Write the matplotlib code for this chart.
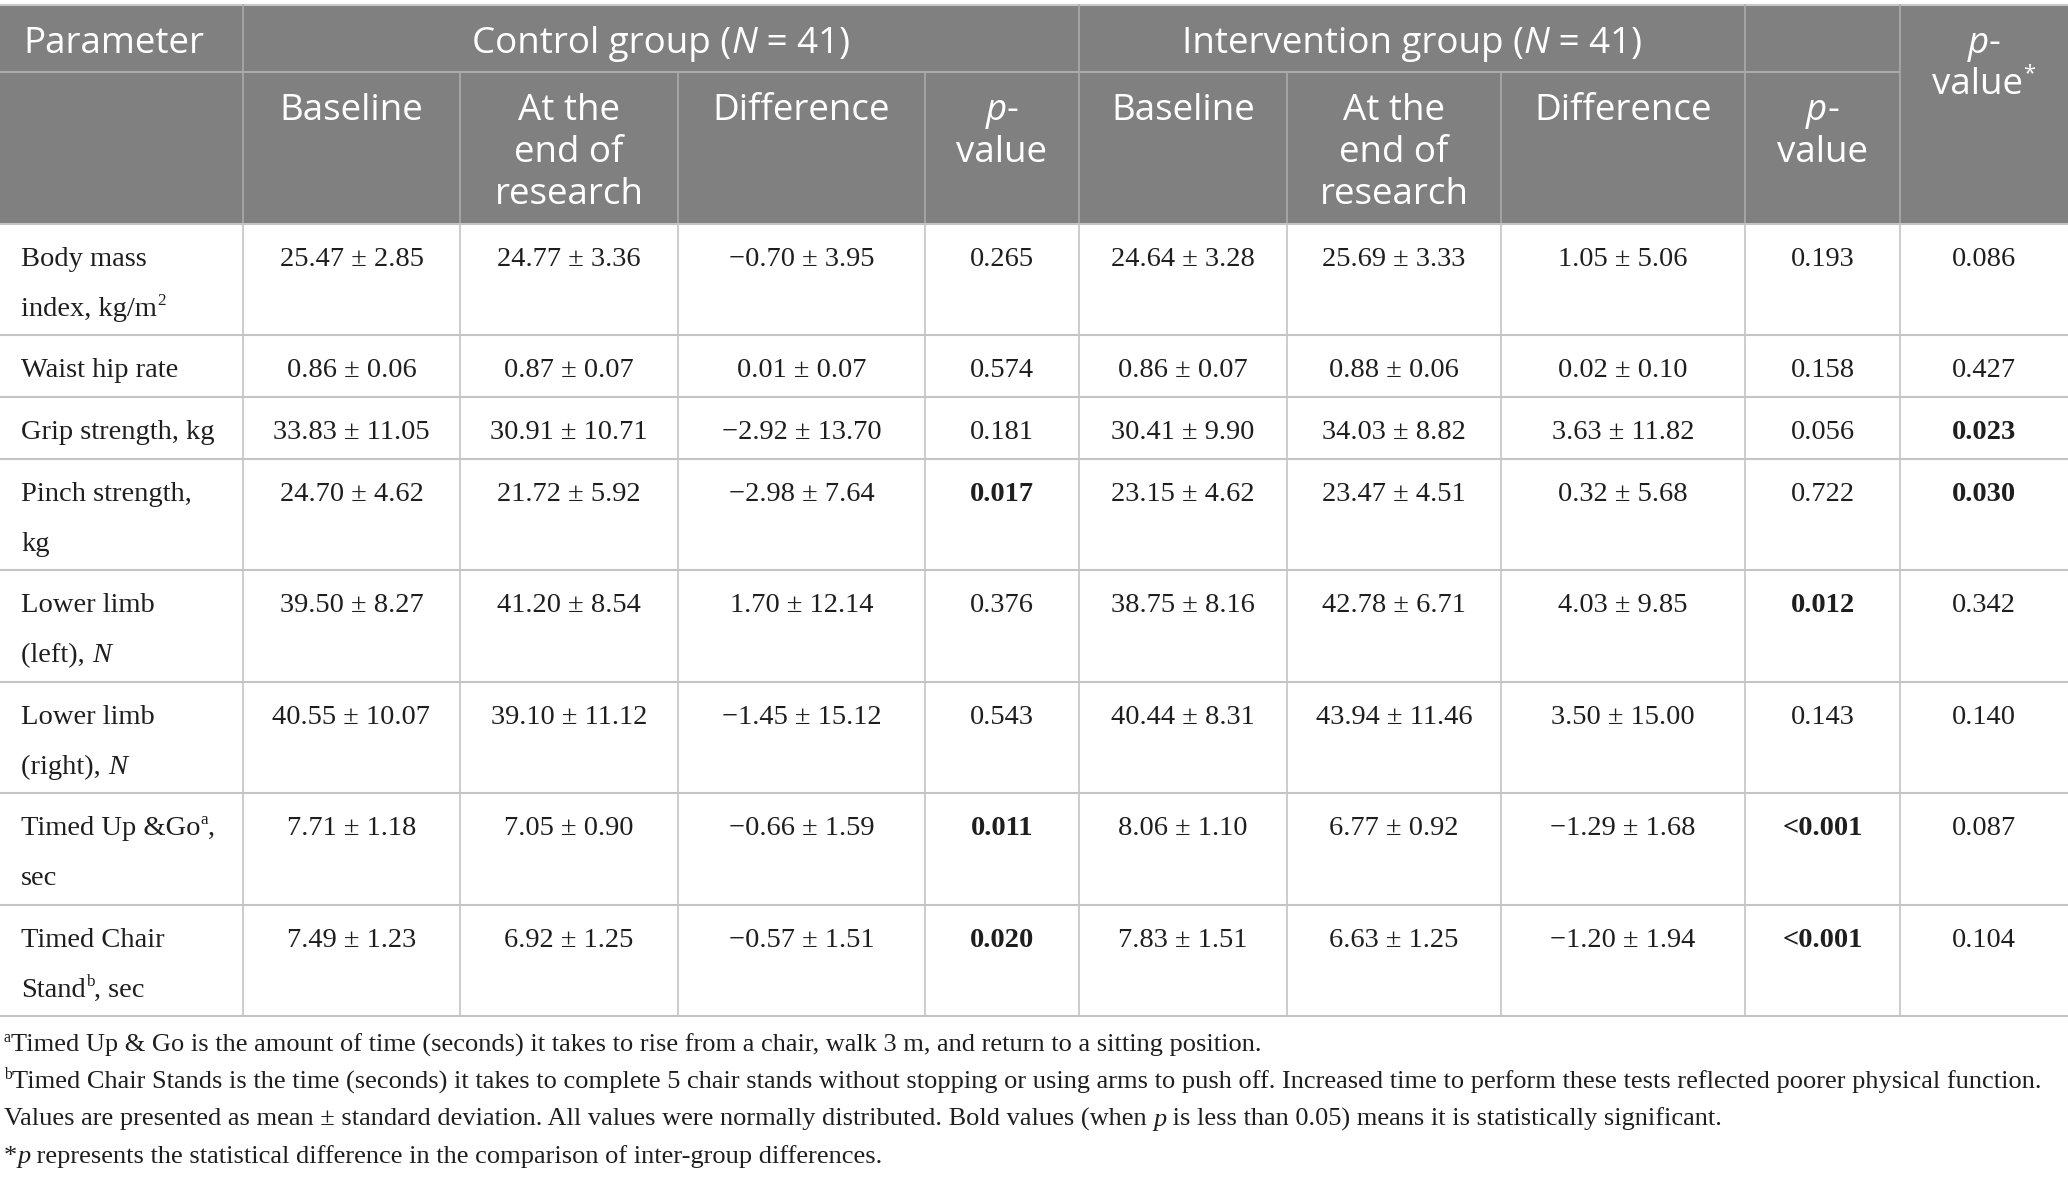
import re
import matplotlib.pyplot as plt

SERIF = ["Liberation Serif", "DejaVu Serif"]
SANS = ["Open Sans", "DejaVu Sans"]

# table content
params = [
    "Body mass\nindex, kg/m<sup>2</sup>",
    "Waist hip rate",
    "Grip strength, kg",
    "Pinch strength,\nkg",
    "Lower limb\n(left), <i>N</i>",
    "Lower limb\n(right), <i>N</i>",
    "Timed Up &Go<sup>a</sup>,\nsec",
    "Timed Chair\nStand<sup>b</sup>, sec",
]
ctrl_baseline = ["25.47 ± 2.85", "0.86 ± 0.06", "33.83 ± 11.05", "24.70 ± 4.62",
                 "39.50 ± 8.27", "40.55 ± 10.07", "7.71 ± 1.18", "7.49 ± 1.23"]
ctrl_end = ["24.77 ± 3.36", "0.87 ± 0.07", "30.91 ± 10.71", "21.72 ± 5.92",
            "41.20 ± 8.54", "39.10 ± 11.12", "7.05 ± 0.90", "6.92 ± 1.25"]
ctrl_diff = ["−0.70 ± 3.95", "0.01 ± 0.07", "−2.92 ± 13.70", "−2.98 ± 7.64",
             "1.70 ± 12.14", "−1.45 ± 15.12", "−0.66 ± 1.59", "−0.57 ± 1.51"]
ctrl_p = ["0.265", "0.574", "0.181", "0.017", "0.376", "0.543", "0.011", "0.020"]
int_baseline = ["24.64 ± 3.28", "0.86 ± 0.07", "30.41 ± 9.90", "23.15 ± 4.62",
                "38.75 ± 8.16", "40.44 ± 8.31", "8.06 ± 1.10", "7.83 ± 1.51"]
int_end = ["25.69 ± 3.33", "0.88 ± 0.06", "34.03 ± 8.82", "23.47 ± 4.51",
           "42.78 ± 6.71", "43.94 ± 11.46", "6.77 ± 0.92", "6.63 ± 1.25"]
int_diff = ["1.05 ± 5.06", "0.02 ± 0.10", "3.63 ± 11.82", "0.32 ± 5.68",
            "4.03 ± 9.85", "3.50 ± 15.00", "−1.29 ± 1.68", "−1.20 ± 1.94"]
int_p = ["0.193", "0.158", "0.056", "0.722", "0.012", "0.143", "<0.001", "<0.001"]
between_p = ["0.086", "0.427", "0.023", "0.030", "0.342", "0.140", "0.087", "0.104"]

group_headers = ["Control group (<i>N</i> = 41)", "Intervention group (<i>N</i> = 41)"]
sub_headers = ["Baseline", "At the\nend of\nresearch", "Difference", "<i>p</i>-\nvalue"]

footnotes = [
    "<sup>a</sup>Timed Up & Go is the amount of time (seconds) it takes to rise from a chair, "
    "walk 3 m, and return to a sitting position.",
    "<sup>b</sup>Timed Chair Stands is the time (seconds) it takes to complete 5 chair stands "
    "without stopping or using arms to push off. Increased time to perform these tests "
    "reflected poorer physical function.",
    "Values are presented as mean ± standard deviation. All values were normally distributed. "
    "Bold values (when <i>p</i> is less than 0.05) means it is statistically significant.",
    "*<i>p</i> represents the statistical difference in the comparison of inter-group differences.",
]

# layout in pixels
W, H = 2068, 1183
col_edges = [0, 243, 460, 678, 925, 1079, 1287, 1501, 1745, 1900, 2068]
head_top, head_mid, head_bot = 5, 72, 224
row_edges = [224, 335, 397, 459, 570, 682, 793, 905, 1016]

HEAD_BG = "#808080"
HEAD_LINE = "#ababab"
GRID = "#c4c4c4"
INK = "#1e1e1e"

fig = plt.figure(figsize=(W / 100, H / 100), dpi=100)
ax = fig.add_axes([0, 0, 1, 1])
ax.set_xlim(0, W)
ax.set_ylim(H, 0)
ax.axis("off")
renderer = fig.canvas.get_renderer()


def parse(markup):
    segs = []
    for part in re.split(r"(<[a-z]+>.*?</[a-z]+>)", markup):
        if not part:
            continue
        m = re.match(r"<([a-z]+)>(.*?)</\1>", part)
        if m:
            segs.append((m.group(2), m.group(1)))
        else:
            segs.append((part, ""))
    return segs


def seg_width(s, props):
    t1 = ax.text(0, 0, "|" + s + "|", **props)
    t2 = ax.text(0, 0, "||", **props)
    w = t1.get_window_extent(renderer).width - t2.get_window_extent(renderer).width
    t1.remove()
    t2.remove()
    return w


def draw_line(x, y, markup, size, family, color, ha="left", weight="normal"):
    pieces = []
    for s, tag in parse(markup):
        props = dict(fontsize=size, family=family, color=color,
                     fontweight=weight, fontstyle="normal")
        dy = 0
        if tag == "i":
            props["fontstyle"] = "italic"
        elif tag == "b":
            props["fontweight"] = "bold"
        elif tag == "sup":
            props["fontsize"] = size * 0.6
            dy = -size * 0.55
        pieces.append((s, props, dy, seg_width(s, props)))
    total = sum(p[3] for p in pieces)
    x0 = x - total / 2 if ha == "center" else x
    for s, props, dy, w in pieces:
        ax.text(x0, y + dy, s, ha="left", va="baseline", **props)
        x0 += w


def draw_block(x, y, markup, step, **kw):
    for i, line in enumerate(markup.split("\n")):
        draw_line(x, y + i * step, line, **kw)


# header background
ax.add_patch(plt.Rectangle((0, head_top), W, head_bot - head_top,
                           facecolor=HEAD_BG, edgecolor="none"))
ax.plot([0, W], [head_top, head_top], color="#c8c8c8", lw=1.5)
ax.plot([0, col_edges[-2]], [head_mid, head_mid], color=HEAD_LINE, lw=1.5)
for x in [243, 1079, 1745, 1900]:
    ax.plot([x, x], [head_top, head_bot], color=HEAD_LINE, lw=1.2)
for x in [460, 678, 925, 1287, 1501]:
    ax.plot([x, x], [head_mid, head_bot], color=HEAD_LINE, lw=1.2)

HS = 26.5
draw_line(23, 53, "Parameter", HS, SANS, "white")
draw_line((243 + 1079) / 2, 53, group_headers[0], HS, SANS, "white", ha="center")
draw_line((1079 + 1745) / 2, 53, group_headers[1], HS, SANS, "white", ha="center")
draw_block((1900 + 2068) / 2, 53, "<i>p</i>-\nvalue<sup>*</sup>", 41,
           size=HS, family=SANS, color="white", ha="center")
for g in range(2):
    for k, label in enumerate(sub_headers):
        c = 1 + g * 4 + k
        cx = (col_edges[c] + col_edges[c + 1]) / 2
        draw_block(cx, 120, label, 42, size=HS, family=SANS, color="white", ha="center")

# body grid
for y in row_edges:
    ax.plot([0, W], [y, y], color=GRID, lw=1.5)
for x in col_edges[1:-1]:
    ax.plot([x, x], [row_edges[0], row_edges[-1]], color=GRID, lw=1.2)


def is_sig(p):
    return p.startswith("<") or float(p) < 0.05


BS = 20.5
columns = [ctrl_baseline, ctrl_end, ctrl_diff, ctrl_p,
           int_baseline, int_end, int_diff, int_p, between_p]
for r, label in enumerate(params):
    top = row_edges[r]
    draw_block(21, top + 42, label, 50, size=BS, family=SERIF, color=INK)
    for c, vals in enumerate(columns):
        cx = (col_edges[c + 1] + col_edges[c + 2]) / 2
        v = vals[r]
        bold = c in (3, 7, 8) and is_sig(v)
        draw_line(cx, top + 42, v, BS, SERIF, INK, ha="center",
                  weight="bold" if bold else "normal")

# footnotes
for i, note in enumerate(footnotes):
    draw_line(4, 1052 + i * 37, note, 19, SERIF, INK)

fig.savefig("out.png", dpi=100, facecolor="white")
